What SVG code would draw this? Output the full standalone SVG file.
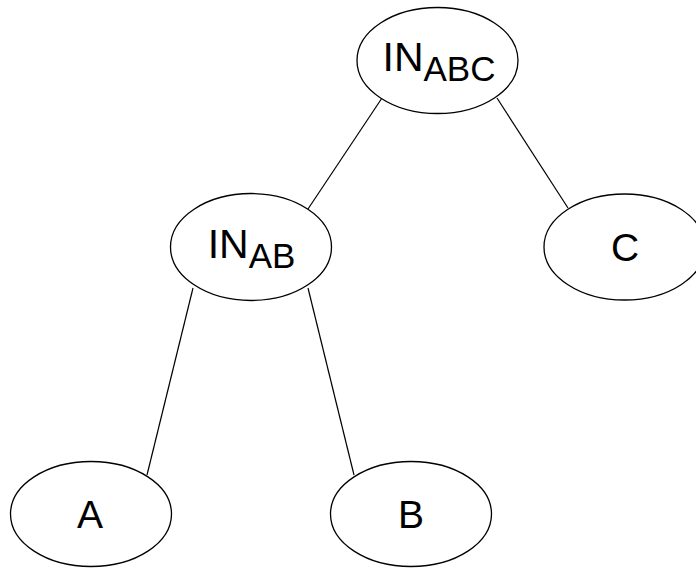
<svg xmlns="http://www.w3.org/2000/svg" width="696" height="568" viewBox="0 0 696 568">
  <style>
    .node ellipse { fill: #ffffff; stroke: #000000; stroke-width: 1.3; }
    .label { font-family: "Liberation Sans", Arial, Helvetica, sans-serif; fill: #000000; text-anchor: middle; }
    .big { font-size: 41px; }
    .sub { font-size: 35px; }
    .leaf { font-size: 39px; }
    .edges line { stroke: #000000; stroke-width: 1.2; }
  </style>
  <rect width="696" height="568" fill="#ffffff"/>

  <!-- tree edges -->
  <g id="edges" class="edges">
    <line x1="382" y1="98" x2="308" y2="209"/>
    <line x1="497" y1="98" x2="568" y2="208"/>
    <line x1="193" y1="288" x2="147" y2="475"/>
    <line x1="308" y1="288" x2="354" y2="475"/>
  </g>

  <g id="node-in-abc" class="node">
    <ellipse cx="437.5" cy="60.5" rx="80.5" ry="53"/>
    <text class="label big" x="439" y="71">IN<tspan class="sub" dy="10">ABC</tspan></text>
  </g>

  <g id="node-in-ab" class="node">
    <ellipse cx="251" cy="247" rx="80.5" ry="53.5"/>
    <text class="label big" x="251.5" y="258">IN<tspan class="sub" dy="9.5">AB</tspan></text>
  </g>

  <g id="node-c" class="node">
    <ellipse cx="624.5" cy="247" rx="80.5" ry="53"/>
    <text class="label leaf" x="625" y="261">C</text>
  </g>

  <g id="node-a" class="node">
    <ellipse cx="91" cy="514" rx="80.5" ry="52.5"/>
    <text class="label leaf" x="90" y="528">A</text>
  </g>

  <g id="node-b" class="node">
    <ellipse cx="411" cy="514" rx="80.5" ry="52.5"/>
    <text class="label leaf" x="411" y="528">B</text>
  </g>
</svg>
